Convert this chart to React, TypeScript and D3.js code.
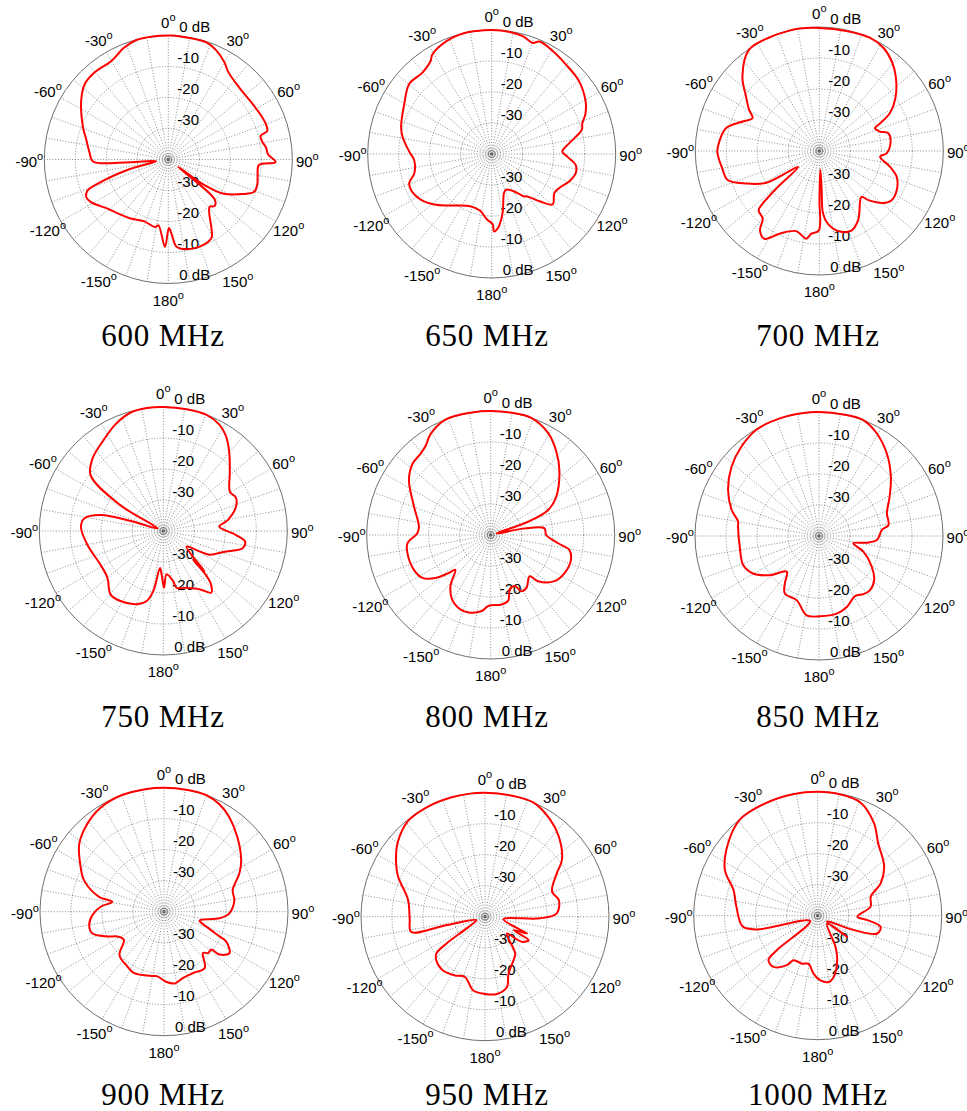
import React from 'react';
import * as d3 from 'd3';

// ---------- data ----------
const FREQ_LABELS = ['600 MHz', '650 MHz', '700 MHz', '750 MHz', '800 MHz', '850 MHz', '900 MHz', '950 MHz', '1000 MHz'];
const ANGLE_TICKS = [0, 30, 60, 90, 120, 150, 180, -150, -120, -90, -60, -30];
const DB_TICKS = [0, -10, -20, -30];
const DB_MIN = -40;

// [angle (deg, clockwise from top), gain (dB)] in trace order
const p600: [number, number][] = [
  [2, 0], [8.5, -0.2], [18, -0.3], [23.6, -1.5], [30, -3.8], [34.5, -5.8], [44.6, -7.4], [55, -7.5], [64.3, -6.9],
  [70.5, -6.5], [74, -6.8], [75.5, -9.2], [79, -9.2], [83.3, -8.2], [87, -7.8], [91.4, -5.4], [93.5, -10.7],
  [100.5, -10.7], [105.5, -10.2], [110.6, -10.4], [115, -13.6], [122, -19.3], [125.5, -26.3], [127, -36],
  [130.6, -20.4], [135, -18.8], [139, -19.7], [148, -13.7], [151, -11.2], [158, -10.2], [168.6, -10.5],
  [174.6, -11.7], [177.5, -16], [179.5, -17.9], [-177.8, -11.8], [-171.5, -18.5], [-169, -17.8], [-158.3, -18.6],
  [-147.4, -17.4], [-137.7, -16.3], [-129, -14.8], [-118.9, -11.5], [-114.7, -10.9], [-111.2, -12], [-109, -15.8],
  [-104, -27], [-98, -36], [-94, -26], [-91.5, -15.7], [-85, -14.5], [-76.5, -12.8], [-69, -10.5], [-56, -6.1],
  [-48, -3.7], [-40, -3.2], [-30, -3.3], [-22, -1.3], [-15, -0.1], [-10, 0], [-4, 0],
];
const p650: [number, number][] = [
  [0, 0], [8.5, -0.2], [15, -0.7], [20.3, -1.8], [23, -0.6], [30.7, -1.4], [39.6, -2.5], [50, -3.3], [60.4, -5.2],
  [66.8, -7.1], [71.5, -9.2], [74.4, -9.7], [76, -10.5], [82.2, -14.8], [88, -17.2], [92, -15.6], [97.4, -12.7],
  [102.8, -12.2], [109.5, -13.5], [116.7, -15.6], [121.8, -16.2], [129.6, -14.5], [134.6, -18.3], [140.6, -22.4],
  [142.5, -22.7], [144.5, -23.8], [150, -26.2], [157.4, -27.6], [162, -27], [169.5, -20.7], [174.9, -16.2],
  [178.3, -15], [179.2, -17.3], [-175.7, -18.9], [-168.6, -21.3], [-157.6, -21.8], [-141.3, -18.7], [-131.2, -15.3],
  [-122.7, -12.8], [-113.8, -11.5], [-109.4, -11.8], [-103.9, -14.3], [-94.4, -14.9], [-88.4, -13.4], [-79, -10.7],
  [-73.4, -9.5], [-60.2, -7.5], [-49.7, -5.1], [-40.4, -5.5], [-33.3, -4.1], [-30.8, -2.6], [-21.4, -0.7], [-13, 0], [-7, 0],
];
const p700: [number, number][] = [
  [0, -0.3], [12.7, -0.3], [24, 0], [31.8, -0.8], [38.9, -2.8], [45.6, -5.5], [54.4, -9.7], [61.8, -14.2],
  [66.1, -19.2], [67.7, -20.6], [72.2, -19.5], [75.6, -17], [83.8, -16.9], [92, -18.3], [95.4, -20.3],
  [102.6, -16.6], [108.4, -13.7], [116.9, -12], [124.2, -11.8], [129, -13.4], [135, -17.6], [137.4, -19.9],
  [147, -16.3], [150.7, -14.4], [158, -12.3], [166.8, -13.5], [173.2, -16.3], [176.6, -19.8], [176.5, -28],
  [177, -34], [179.8, -24], [-179.6, -14.3], [-174.5, -13.2], [-171.5, -11.4], [-163.9, -13.1], [-154.3, -10.4],
  [-148, -6.6], [-143.3, -8], [-140, -11.6], [-134.4, -12.6], [-132.9, -15], [-131, -22], [-127, -31.5],
  [-120.9, -20], [-113.9, -14.1], [-107.6, -9], [-100.2, -8.2], [-90.4, -7.1], [-84.6, -7.6], [-76.3, -9],
  [-69, -13.5], [-63.8, -16], [-59.5, -13.7], [-53.3, -10.5], [-45.8, -5.4], [-34.6, -0.2], [-23.2, 0],
  [-15.3, 0], [-9.2, 0],
];
const p750: [number, number][] = [
  [0, 0], [10.8, 0], [20.2, 0], [27.8, -1.2], [33.4, -3.3], [40, -6.9], [48.6, -11.4], [59.7, -15.1], [64.9, -14.2],
  [71.6, -15.3], [80.4, -18.9], [85.6, -21.9], [93, -16.6], [97.4, -13.4], [102.2, -13.8], [108, -18.7],
  [117.2, -23.3], [119.4, -26.6], [124, -31], [134.3, -21.4], [134, -26.7], [136, -20], [138.2, -16.9],
  [142.2, -14.8], [148.1, -17.9], [157.9, -20.2], [166.9, -21.2], [168.8, -23.5], [175.7, -26], [179.3, -21.7],
  [-177.8, -26], [-174.9, -28], [-170.6, -20.4], [-166.7, -16.8], [-160.2, -14.9], [-148.5, -13.5], [-140.2, -13.4],
  [-129.9, -16.5], [-118.2, -17], [-100.3, -15.1], [-87, -13.4], [-81, -14.2], [-75.8, -19.1], [-72.7, -30],
  [-66, -38], [-59, -23.8], [-52.6, -10.5], [-44.6, -7.4], [-32.9, -4.8], [-24.2, -2.3], [-15.6, -0.4], [-7.6, 0],
];
const p800: [number, number][] = [
  [0, 0], [9.7, 0], [19.1, 0], [29.2, -2.2], [37.8, -5.6], [46.8, -9.6], [59.9, -15.6], [66.6, -19.9], [70.5, -27.2],
  [75, -38], [79, -28.8], [83, -22.5], [90, -22.1], [97, -18.1], [100.7, -14.2], [107.2, -12.9], [117.3, -13.2],
  [125.9, -14.6], [134.4, -18.7], [136.6, -21.7], [146, -19.4], [151.3, -19.3], [154.8, -21.8], [160.6, -21.4],
  [165.2, -18], [171, -17.3], [-178.1, -17.1], [-173.3, -15.3], [-164.1, -14], [-157.8, -14.1], [-149, -15.8],
  [-141.8, -19], [-134.5, -24], [-132.2, -21.8], [-127.9, -17.4], [-122.1, -14], [-114.4, -12.8], [-102.3, -12.5],
  [-95.7, -13], [-88.7, -16.3], [-83.4, -16.7], [-69.9, -13.7], [-56.3, -8.3], [-47.8, -5.9], [-40.9, -5.4],
  [-36.1, -4.4], [-30.8, -2.1], [-21.4, 0], [-8.7, 0],
];
const p850: [number, number][] = [
  [0, 0], [11.3, 0], [20.9, 0], [29.3, -2], [39.3, -5.5], [50.4, -9.9], [60.8, -13.9], [71.5, -16.9], [81, -17.3],
  [84.5, -19.6], [94, -21.3], [98, -24.5], [102, -28.7], [109.5, -24.8], [120.2, -20.3], [128.7, -17.2],
  [136.6, -16], [142.6, -16.4], [149, -17.4], [158.6, -15.4], [167.1, -14.3], [179.3, -14.1], [-171.1, -14.1],
  [-160.8, -18.1], [-149.3, -18.4], [-144.3, -21.1], [-137.8, -24.5], [-128.5, -19.7], [-119.6, -15.5],
  [-111, -13.8], [-97.7, -14.2], [-83.4, -13.7], [-79.9, -13.5], [-73.4, -10.6], [-63.1, -7.1], [-51.6, -4],
  [-40.9, -1.8], [-30.5, -0.2], [-18.1, 0], [-7.2, 0],
];
const p900: [number, number][] = [
  [0, 0], [10.4, 0], [19.8, 0], [27.3, -1], [34.8, -3], [44.7, -6.3], [56.4, -10.1], [63.2, -12.8], [72.6, -16.8],
  [80.7, -17], [91.4, -18.9], [96.8, -22], [104, -28.2], [109.4, -25.5], [114, -20.4], [115.6, -17.8],
  [122.3, -15], [127.7, -17.4], [128.8, -20.5], [133.2, -20.5], [136.6, -21.7], [144.1, -17.6], [154.6, -18.1],
  [163.8, -17.8], [171.4, -16.6], [177.8, -17.3], [-173.6, -19.1], [-169.3, -18.9], [-153.6, -18],
  [-145.8, -18.8], [-134.4, -19.9], [-124.9, -24.2], [-117.8, -22.9], [-113.6, -20], [-106.7, -15.8],
  [-100, -15.5], [-92.6, -16.9], [-85.5, -19.5], [-79.2, -23], [-77.1, -18.5], [-68.6, -12.3], [-61.8, -9.5],
  [-51.4, -5], [-41.2, -2.4], [-31.4, -0.7], [-20.4, 0], [-8, 0],
];
const p950: [number, number][] = [
  [0, 0], [13.2, 0], [23.1, 0], [33.9, -2.3], [42.5, -4.8], [53.5, -9.1], [58.8, -12.9], [69.4, -16.9],
  [77.2, -15.6], [87.3, -16.8], [91.7, -22.2], [98, -34], [111.8, -25.4], [115, -29.8], [118.3, -24],
  [124.3, -25.6], [127.6, -31.1], [140.7, -24.6], [146.8, -23.2], [157.6, -20.1], [162.8, -16.2], [171.3, -14.8],
  [180, -15.1], [-171, -15.9], [-161.6, -19.5], [-152.8, -18.7], [-142, -18], [-131.9, -18.9], [-127.2, -20.3],
  [-124.8, -24.9], [-122.5, -33], [-112, -37], [-102.3, -27.5], [-101.6, -15.7], [-91.3, -15.7], [-77.7, -14.6],
  [-65.2, -9.1], [-58.9, -6.5], [-49.8, -3.1], [-38.9, -0.4], [-27.6, 0], [-16, 0], [-7, 0],
];
const p1000: [number, number][] = [
  [0, 0], [10.6, -0.2], [20.8, -1], [31.2, -5], [39.7, -9.5], [53.4, -13.3], [62.7, -17.1], [70.2, -21.8],
  [80.3, -22.7], [91.5, -27.2], [95, -23.9], [100, -19.4], [106.6, -19.9], [111.7, -27.4], [122, -36.5],
  [125.6, -28.3], [130, -36], [150.3, -28.4], [156.4, -24.3], [165.3, -19.6], [170.5, -18.3], [177.6, -19.1],
  [-176, -21.2], [-169.3, -24.2], [-161.8, -23.7], [-151.6, -23.7], [-148.1, -21.2], [-139.2, -18.2],
  [-132.1, -18.6], [-130.2, -22.7], [-125, -37], [-102.7, -19.8], [-98, -15.5], [-83.6, -13.6], [-73, -11.6],
  [-63.7, -6.6], [-50.9, -2.8], [-38.9, -0.1], [-25, 0], [-11, 0],
];
const PATTERNS = [p600, p650, p700, p750, p800, p850, p900, p950, p1000];

// ---------- layout ----------
const W = 967;
const H = 1111;
const R = 124;
const CENTERS: [number, number][] = [
  [168.3, 159.5], [491.7, 154], [819.3, 151],
  [163.3, 531], [490.7, 535], [819, 536],
  [164, 911.7], [485, 916.7], [817.7, 915.7],
];
const TITLE_X = [163, 487, 818];
const TITLE_Y = [346, 727, 1105];
const LABEL_FONT = '"Liberation Sans", Arial, Helvetica, sans-serif';

function PolarPlot({ cx, cy, data }: { cx: number; cy: number; data: [number, number][] }) {
  const r = d3.scaleLinear().domain([DB_MIN, 0]).range([0, R]).clamp(true);
  const spokes = d3.range(0, 360, 10);
  const line = d3
    .lineRadial<[number, number]>()
    .angle((d) => (d[0] * Math.PI) / 180)
    .radius((d) => r(d[1]))
    .curve(d3.curveCatmullRomClosed.alpha(0.5));
  const gridStroke = '#6e6e6e';
  return (
    <g transform={`translate(${cx},${cy})`}>
      {spokes.map((a) => {
        const t = (a * Math.PI) / 180;
        return (
          <line key={'s' + a} x1={0} y1={0} x2={R * Math.sin(t)} y2={-R * Math.cos(t)}
            stroke={gridStroke} strokeWidth={0.8} strokeDasharray="1,1.8" />
        );
      })}
      {DB_TICKS.filter((v) => v > DB_MIN && v < 0).map((v) => (
        <circle key={'c' + v} r={r(v)} fill="none" stroke={gridStroke} strokeWidth={0.8} strokeDasharray="1,1.8" />
      ))}
      <circle r={4} fill="none" stroke="#555" strokeWidth={0.7} strokeDasharray="1,1" />
      <circle r={1.5} fill="none" stroke="#444" strokeWidth={0.7} />
      <circle r={R} fill="none" stroke="#707070" strokeWidth={1} />
      {DB_TICKS.map((v) => {
        const txt = v === 0 ? '0 dB' : String(v);
        return (
          <g key={'l' + v}>
            <text x={v === 0 ? 11 : 9} y={-r(v) - 3.5} fontSize={15} fontFamily={LABEL_FONT} fill="#000">{txt}</text>
            <text x={v === 0 ? 11 : 9} y={r(v) - 3.5} fontSize={15} fontFamily={LABEL_FONT} fill="#000">{txt}</text>
          </g>
        );
      })}
      {ANGLE_TICKS.map((a) => {
        const t = (a * Math.PI) / 180;
        const lr = 139;
        const x = lr * Math.sin(t);
        const y = -lr * Math.cos(t) + 7;
        return (
          <text key={'a' + a} x={x} y={y} textAnchor="middle" fontSize={15} fontFamily={LABEL_FONT} fill="#000">
            {String(a)}
            <tspan fontSize={11} dy={-7}>o</tspan>
          </text>
        );
      })}
      <path d={line(data) || ''} fill="none" stroke="#ff0000" strokeWidth={2} strokeLinejoin="round" />
    </g>
  );
}

export default function App() {
  return (
    <svg width={W} height={H} style={{ position: 'absolute', left: 0, top: 0, background: '#fff' }}>
      <rect width={W} height={H} fill="#fff" />
      {PATTERNS.map((data, i) => (
        <PolarPlot key={i} cx={CENTERS[i][0]} cy={CENTERS[i][1]} data={data} />
      ))}
      {FREQ_LABELS.map((lab, i) => (
        <text key={lab} x={TITLE_X[i % 3]} y={TITLE_Y[Math.floor(i / 3)]} textAnchor="middle"
          fontSize={31} letterSpacing={0.8} fontFamily='"Liberation Serif", "Times New Roman", serif' fill="#000">
          {lab}
        </text>
      ))}
    </svg>
  );
}
